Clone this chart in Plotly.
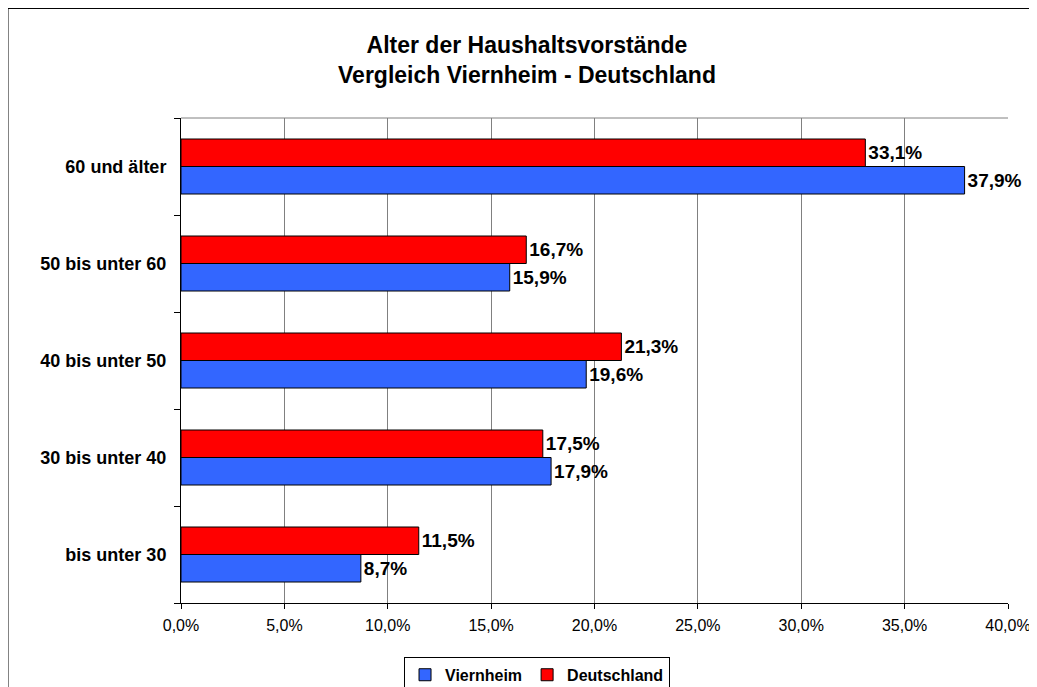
import plotly.graph_objects as go

categories = ["bis unter 30", "30 bis unter 40", "40 bis unter 50", "50 bis unter 60", "60 und älter"]
viernheim = [8.7, 17.9, 19.6, 15.9, 37.9]
deutschland = [11.5, 17.5, 21.3, 16.7, 33.1]
tick_vals = [0, 5, 10, 15, 20, 25, 30, 35, 40]
tick_text = ["0,0%", "5,0%", "10,0%", "15,0%", "20,0%", "25,0%", "30,0%", "35,0%", "40,0%"]

def fmt(v):
    return f"{v:.1f}%".replace(".", ",")

FONT = "Liberation Sans, Arial, sans-serif"

fig = go.Figure()
fig.add_trace(go.Bar(
    y=categories, x=viernheim, orientation="h", name="Viernheim",
    marker=dict(color="#3366FF", line=dict(color="black", width=1)),
    text=[fmt(v) for v in viernheim], textposition="outside",
    textfont=dict(family=FONT, size=19, color="black", weight="bold"),
    cliponaxis=False, constraintext="none",
))
fig.add_trace(go.Bar(
    y=categories, x=deutschland, orientation="h", name="Deutschland",
    marker=dict(color="#FF0000", line=dict(color="black", width=1)),
    text=[fmt(v) for v in deutschland], textposition="outside",
    textfont=dict(family=FONT, size=19, color="black", weight="bold"),
    cliponaxis=False, constraintext="none",
))

fig.update_layout(
    width=1037, height=687,
    margin=dict(l=173, r=37, t=110, b=92, autoexpand=False),
    paper_bgcolor="white", plot_bgcolor="white",
    barmode="group", bargap=0.433, bargroupgap=0,
    title=dict(
        text="<b>Alter der Haushaltsvorstände<br>Vergleich Viernheim - Deutschland</b>",
        x=519 / 1037, xanchor="center", y=1 - 45 / 687, yanchor="top",
        font=dict(family=FONT, size=23, color="black"),
    ),
    font=dict(family=FONT, color="black"),
    legend=dict(
        orientation="h", x=0.4305, xanchor="center",
        y=-0.111, yanchor="top",
        bordercolor="black", borderwidth=1,
        font=dict(family=FONT, size=16, color="black", weight="bold"),
        traceorder="normal", itemwidth=30,
    ),
    showlegend=True,
)
fig.update_xaxes(
    range=[0, 40], tickvals=tick_vals, ticktext=tick_text, tickangle=0,
    showgrid=True, gridcolor="#808080", gridwidth=1,
    showline=True, linecolor="black", linewidth=1,
    ticks="outside", ticklen=5, tickcolor="black",
    tickfont=dict(family=FONT, size=16, color="black"),
    zeroline=False, automargin=False, ticklabelstandoff=3,
)
fig.update_yaxes(
    categoryorder="array", categoryarray=categories,
    showline=True, linecolor="black", linewidth=1,
    ticks="outside", ticklen=6, tickcolor="black", tickson="boundaries",
    tickfont=dict(family=FONT, size=18, color="black", weight="bold"),
    showgrid=False, automargin=False, ticklabelstandoff=10,
)
fig.add_shape(type="line", xref="paper", yref="paper", x0=0, x1=1, y0=1, y1=1,
              line=dict(color="#808080", width=1), layer="below")
fig.add_shape(type="rect", xref="paper", yref="paper",
              x0=-0.2092, x1=1.2, y0=-0.4, y1=1.2258,
              line=dict(color="black", width=1), fillcolor="rgba(0,0,0,0)")

fig.write_html("out.html")
